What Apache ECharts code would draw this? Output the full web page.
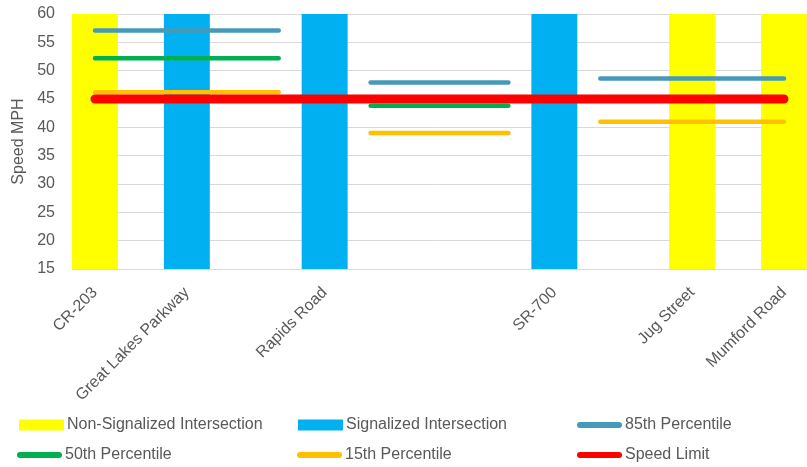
<!DOCTYPE html>
<html>
<head>
<meta charset="utf-8">
<style>
  html, body { margin: 0; padding: 0; background: #ffffff; }
  #chart { width: 807px; height: 467px; }
</style>
<script src="https://cdn.jsdelivr.net/npm/echarts@6/dist/echarts.min.js"></script>
</head>
<body>
<div id="chart"></div>
<script>
// Positions along the corridor (16 slots); only intersections are labelled
const categories = ['CR-203', '', 'Great Lakes Parkway', '', '', 'Rapids Road', '', '', '', '',
                    'SR-700', '', '', 'Jug Street', '', 'Mumford Road'];
const nonSignalized = [60, null, null, null, null, null, null, null, null, null, null, null, null, 60, null, 60];
const signalized    = [null, null, 60, null, null, 60, null, null, null, null, 60, null, null, null, null, null];
const pct85 = [57.1, 57.1, 57.1, 57.1, 57.1, null, 47.9, 47.9, 47.9, 47.9, null, 48.6, 48.6, 48.6, 48.6, 48.6];
const pct50 = [52.2, 52.2, 52.2, 52.2, 52.2, null, 43.8, 43.8, 43.8, 43.8, null, null, null, null, null, null];
const pct15 = [46.2, 46.2, 46.2, 46.2, 46.2, null, 39.0, 39.0, 39.0, 39.0, null, 41.0, 41.0, 41.0, 41.0, 41.0];
const speedLimit = [45, 45, 45, 45, 45, 45, 45, 45, 45, 45, 45, 45, 45, 45, 45, 45];
const yTicks = { min: 15, max: 60, interval: 5 };

const FONT = 'Liberation Sans, Arial, sans-serif';
const TXT = '#595959';
const capsule = 'path://M3,0 L42,0 A3,3 0 0 1 42,6 L3,6 A3,3 0 0 1 3,0 Z';

function legendItem(name, left, top, isLine) {
  return {
    data: [name],
    left: left, top: top,
    padding: 0,
    itemWidth: 45,
    itemHeight: isLine ? 6 : 11,
    icon: isLine ? capsule : 'rect',
    selectedMode: false,
    textStyle: { fontFamily: FONT, fontSize: 16, color: TXT, padding: [0, 0, 0, -2] }
  };
}

const chart = echarts.init(document.getElementById('chart'), null, { renderer: 'canvas' });
chart.setOption({
  animation: false,
  backgroundColor: '#ffffff',
  grid: { left: 72, top: 14, width: 736, height: 255, containLabel: false },
  xAxis: {
    type: 'category',
    data: categories,
    boundaryGap: true,
    axisLine: { show: true, lineStyle: { color: '#D9D9D9', width: 1 } },
    axisTick: { show: false },
    axisLabel: { interval: 0, rotate: 45, margin: 21, fontFamily: FONT, fontSize: 16, color: TXT }
  },
  yAxis: {
    type: 'value',
    min: yTicks.min, max: yTicks.max, interval: yTicks.interval,
    name: 'Speed MPH',
    nameLocation: 'middle',
    nameGap: 45,
    nameTextStyle: { fontFamily: FONT, fontSize: 16, color: TXT },
    axisLine: { show: false },
    axisTick: { show: false },
    axisLabel: { margin: 17, fontFamily: FONT, fontSize: 16, color: TXT },
    splitLine: { show: true, lineStyle: { color: '#D9D9D9', width: 1 } }
  },
  legend: [
    legendItem('Non-Signalized Intersection', 19, 417, false),
    legendItem('Signalized Intersection', 298, 417, false),
    legendItem('85th Percentile', 577, 417, true),
    legendItem('50th Percentile', 17, 447, true),
    legendItem('15th Percentile', 297, 447, true),
    legendItem('Speed Limit', 577, 447, true)
  ],
  series: [
    { name: 'Non-Signalized Intersection', type: 'bar', data: nonSignalized,
      barWidth: '100%', barGap: '-100%', itemStyle: { color: '#FFFF00' } },
    { name: 'Signalized Intersection', type: 'bar', data: signalized,
      barWidth: '100%', barGap: '-100%', itemStyle: { color: '#00B0F0' } },
    { name: '85th Percentile', type: 'line', data: pct85, symbol: 'none', connectNulls: false,
      itemStyle: { color: '#4599B9' }, lineStyle: { color: '#4599B9', width: 4.5, cap: 'round' } },
    { name: '50th Percentile', type: 'line', data: pct50, symbol: 'none', connectNulls: false,
      itemStyle: { color: '#00B050' }, lineStyle: { color: '#00B050', width: 4.5, cap: 'round' } },
    { name: '15th Percentile', type: 'line', data: pct15, symbol: 'none', connectNulls: false,
      itemStyle: { color: '#FFC000' }, lineStyle: { color: '#FFC000', width: 4.5, cap: 'round' } },
    { name: 'Speed Limit', type: 'line', data: speedLimit, symbol: 'none', connectNulls: false,
      itemStyle: { color: '#FF0000' }, lineStyle: { color: '#FF0000', width: 9, cap: 'round' } }
  ]
});
</script>
</body>
</html>
